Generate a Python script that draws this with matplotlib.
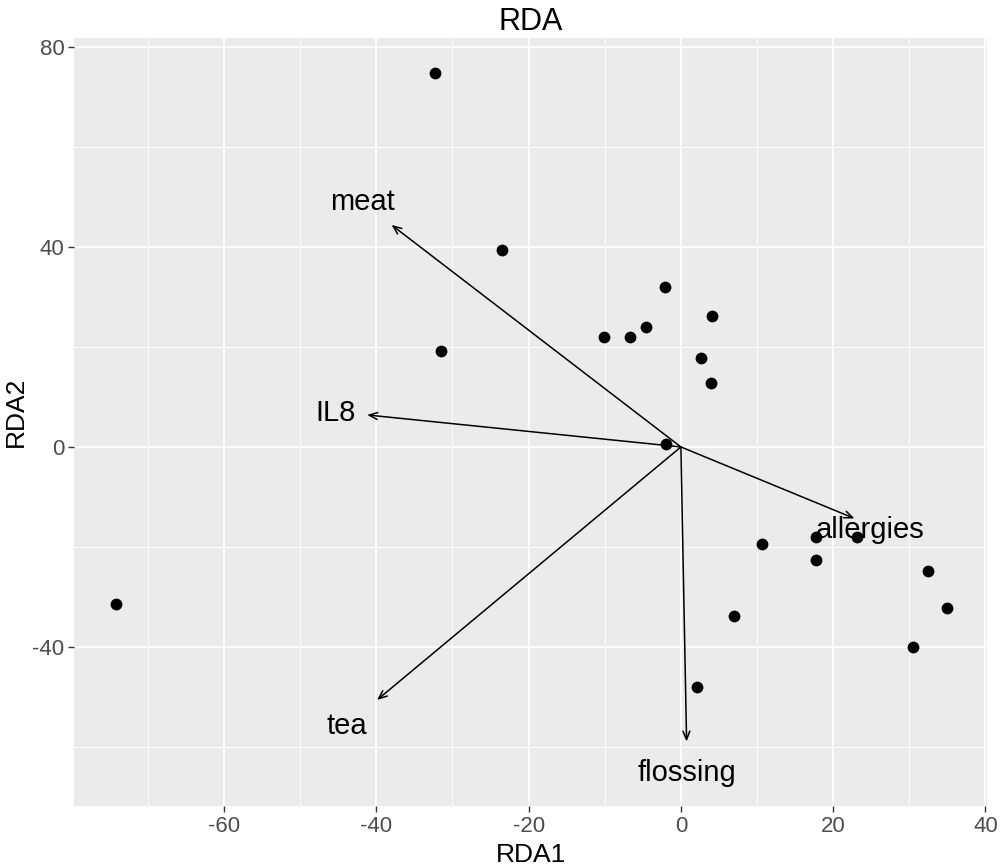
import matplotlib
matplotlib.use("Agg")
import matplotlib.pyplot as plt
from matplotlib.ticker import MultipleLocator

plt.rcParams['font.family'] = ['Liberation Sans', 'DejaVu Sans']
plt.rcParams['axes.unicode_minus'] = False

# puntos de las muestras
rda1 = [-74.2, -32.3, -23.5, -31.5, -10.1, -6.65, -4.6, -2.05, 4.07, 2.6, 3.9,
        -2.0, 10.7, 17.7, 17.8, 23.1, 32.5, 34.9, 30.5, 7.0, 2.1]
rda2 = [-31.4, 74.7, 39.3, 19.1, 22.0, 21.9, 23.9, 31.9, 26.1, 17.8, 12.7,
        0.6, -19.4, -18.1, -22.6, -18.0, -24.9, -32.3, -40.0, -33.9, -48.1]

# vectores de variables
variables = ["meat", "IL8", "tea", "flossing", "allergies"]
flecha_x = [-38.0, -41.2, -39.9, 0.75, 22.8]
flecha_y = [44.4, 6.4, -50.6, -58.9, -14.3]
etiqueta_x = [-41.8, -45.4, -43.9, 0.75, 24.9]
etiqueta_y = [48.9, 6.7, -55.9, -65.2, -16.6]

fig = plt.figure(figsize=(10, 8.65), dpi=100)
ax = fig.add_axes([0.074, 0.0682, 0.913, 0.888])
ax.set_facecolor("#EBEBEB")

# rejilla estilo ggplot
ax.xaxis.set_major_locator(MultipleLocator(20))
ax.yaxis.set_major_locator(MultipleLocator(40))
ax.xaxis.set_minor_locator(MultipleLocator(10))
ax.yaxis.set_minor_locator(MultipleLocator(20))
ax.grid(which="major", color="white", linewidth=1.3)
ax.grid(which="minor", color="white", linewidth=0.6)
ax.set_axisbelow(True)
for s in ax.spines.values():
    s.set_visible(False)
ax.tick_params(which="major", length=4, width=1, color="#333333",
               labelsize=16, labelcolor="#4D4D4D", pad=3)
ax.tick_params(which="minor", length=0)

ax.scatter(rda1, rda2, s=72, color="black", zorder=3, linewidths=0)

for nombre, fx, fy, ex, ey in zip(variables, flecha_x, flecha_y, etiqueta_x, etiqueta_y):
    ax.annotate("", xy=(fx, fy), xytext=(0, 0),
                arrowprops=dict(arrowstyle="->,head_length=0.6,head_width=0.25",
                                color="black", lw=1.1, shrinkA=0, shrinkB=0),
                zorder=4)
    ax.text(ex, ey, nombre, fontsize=21, ha="center", va="center", zorder=5)

ax.set_xlim(-79.7, 40.2)
ax.set_ylim(-71.8, 81.8)
ax.set_xlabel("RDA1", fontsize=19, va="baseline")
ax.set_ylabel("RDA2", fontsize=19, va="baseline")
ax.xaxis.set_label_coords(0.5, -0.0725)
ax.yaxis.set_label_coords(-0.056, 0.513)
ax.set_title("RDA", fontsize=22, pad=6)

fig.savefig("out.png", dpi=100)
